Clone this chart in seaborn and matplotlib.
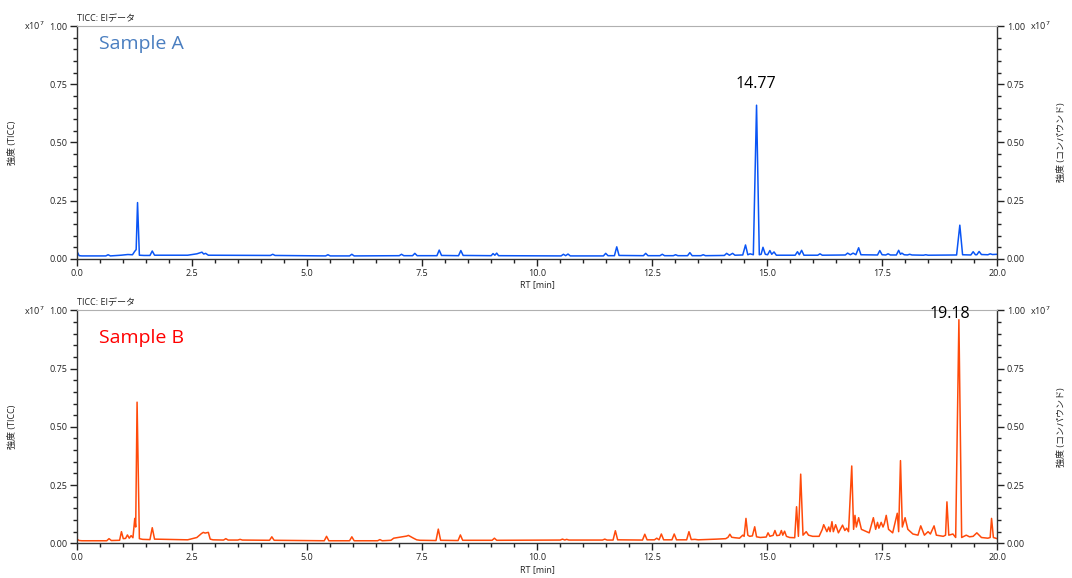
import matplotlib
matplotlib.use("Agg")
import matplotlib.pyplot as plt
from matplotlib.ticker import MultipleLocator, FormatStrFormatter
import seaborn as sns
import pandas as pd

# Sample A (TICC), intensity in units of 1e7
rt_a = [0.00, 0.04, 0.10,
        0.62, 0.67, 0.72,
        0.95, 1.10, 1.20, 1.25, 1.28, 1.31, 1.35, 1.45,
        1.58, 1.63, 1.68,
        2.40, 2.60, 2.71, 2.75, 2.79, 2.85,
        4.20, 4.25, 4.30,
        5.40, 5.45, 5.50,
        5.92, 5.97, 6.02,
        7.00, 7.05, 7.10,
        7.29, 7.34, 7.39,
        7.82, 7.87, 7.92,
        8.29, 8.34, 8.39,
        9.00, 9.04, 9.08, 9.12, 9.16,
        10.52, 10.57, 10.62, 10.67, 10.72,
        11.44, 11.49, 11.54,
        11.68, 11.73, 11.78,
        12.31, 12.36, 12.41,
        12.67, 12.72, 12.77,
        12.96, 13.01, 13.06,
        13.27, 13.32, 13.37,
        13.56, 13.61, 13.66,
        14.07, 14.12, 14.18, 14.25, 14.30,
        14.47, 14.53, 14.58, 14.63, 14.70,
        14.77, 14.83, 14.87,
        14.91, 14.96, 15.01, 15.06, 15.10, 15.15, 15.20,
        15.61, 15.66, 15.70, 15.75, 15.80,
        16.10, 16.15, 16.20,
        16.70, 16.75, 16.81, 16.87, 16.93, 16.99, 17.04,
        17.40, 17.45, 17.50, 17.58, 17.63, 17.68,
        17.81, 17.86, 17.90, 17.93, 17.98, 18.05, 18.10, 18.15,
        18.40, 18.45, 18.50,
        19.12, 19.19, 19.25,
        19.43, 19.48, 19.53, 19.56, 19.61, 19.66,
        19.80, 19.85, 19.90, 20.00]
int_a = [0.030, 0.014, 0.013,
         0.013, 0.018, 0.013,
         0.016, 0.019, 0.018, 0.033, 0.040, 0.242, 0.016, 0.015,
         0.015, 0.034, 0.016,
         0.016, 0.022, 0.029, 0.021, 0.024, 0.016,
         0.015, 0.020, 0.015,
         0.013, 0.018, 0.013,
         0.013, 0.020, 0.013,
         0.014, 0.020, 0.014,
         0.014, 0.024, 0.014,
         0.014, 0.038, 0.015,
         0.014, 0.036, 0.015,
         0.014, 0.023, 0.016, 0.025, 0.014,
         0.013, 0.020, 0.014, 0.021, 0.013,
         0.013, 0.024, 0.014,
         0.014, 0.052, 0.015,
         0.014, 0.024, 0.014,
         0.014, 0.020, 0.014,
         0.014, 0.018, 0.014,
         0.014, 0.027, 0.014,
         0.014, 0.018, 0.014,
         0.015, 0.024, 0.016, 0.024, 0.016,
         0.017, 0.060, 0.018, 0.022, 0.018,
         0.660, 0.018, 0.020,
         0.050, 0.020, 0.018, 0.036, 0.020, 0.030, 0.016,
         0.016, 0.031, 0.018, 0.037, 0.016,
         0.016, 0.022, 0.016,
         0.017, 0.025, 0.018, 0.025, 0.018, 0.048, 0.018,
         0.017, 0.036, 0.018, 0.017, 0.022, 0.017,
         0.017, 0.037, 0.020, 0.025, 0.018, 0.017, 0.020, 0.017,
         0.016, 0.018, 0.016,
         0.017, 0.145, 0.018,
         0.017, 0.031, 0.018, 0.018, 0.032, 0.019,
         0.018, 0.022, 0.019, 0.020]

# Sample B (TICC), intensity in units of 1e7
rt_b = [0.00, 0.04, 0.10,
        0.64, 0.69, 0.74,
        0.92, 0.96, 1.00, 1.05, 1.09, 1.13, 1.17, 1.21,
        1.25, 1.27, 1.30, 1.35, 1.42,
        1.58, 1.63, 1.68,
        2.40, 2.60, 2.70, 2.74, 2.78, 2.85, 2.89, 2.95,
        3.18, 3.23, 3.28,
        3.49, 3.54, 3.59,
        4.18, 4.23, 4.28,
        5.37, 5.42, 5.47,
        5.92, 5.97, 6.02,
        6.53, 6.58, 6.63,
        6.82, 6.88, 7.00, 7.16, 7.20, 7.31, 7.38, 7.45,
        7.80, 7.85, 7.90,
        8.28, 8.33, 8.38,
        9.02, 9.07, 9.12,
        10.50, 10.55, 10.60, 10.64, 10.69,
        11.42, 11.47, 11.52,
        11.65, 11.70, 11.75,
        12.29, 12.34, 12.39,
        12.55, 12.60, 12.65, 12.70, 12.75,
        12.93, 12.98, 13.03,
        13.25, 13.30, 13.35, 13.43, 13.50,
        13.90, 14.10, 14.15, 14.19, 14.23, 14.30, 14.40,
        14.47, 14.50, 14.54, 14.58, 14.62, 14.68, 14.73, 14.77, 14.85,
        14.98, 15.02, 15.06, 15.09, 15.13, 15.17, 15.21, 15.27, 15.31, 15.34,
        15.38, 15.42, 15.49,
        15.60, 15.64, 15.68, 15.73, 15.78, 15.85, 15.90, 15.99, 16.13,
        16.20, 16.23, 16.30, 16.34, 16.37, 16.41, 16.44, 16.49, 16.55, 16.64,
        16.69, 16.73, 16.77,
        16.84, 16.88, 16.91, 16.94, 16.99, 17.05, 17.22,
        17.31, 17.36, 17.40, 17.43, 17.48, 17.52, 17.55, 17.59, 17.64, 17.73,
        17.83, 17.86, 17.90, 17.94, 18.00, 18.06, 18.17, 18.28,
        18.34, 18.42, 18.50, 18.55, 18.63, 18.68, 18.83,
        18.88, 18.91, 18.95, 19.04, 19.10,
        19.17, 19.23, 19.33, 19.40, 19.48, 19.56, 19.66, 19.80,
        19.85, 19.88, 19.92, 20.00]
int_b = [0.017, 0.012, 0.011,
         0.011, 0.020, 0.012,
         0.013, 0.050, 0.020, 0.021, 0.036, 0.022, 0.033, 0.024,
         0.107, 0.070, 0.606, 0.020, 0.017,
         0.016, 0.067, 0.018,
         0.015, 0.025, 0.042, 0.047, 0.044, 0.047, 0.018, 0.015,
         0.014, 0.020, 0.014,
         0.014, 0.017, 0.014,
         0.013, 0.028, 0.013,
         0.011, 0.030, 0.011,
         0.011, 0.028, 0.011,
         0.011, 0.016, 0.011,
         0.013, 0.022, 0.026, 0.031, 0.034, 0.022, 0.015, 0.013,
         0.012, 0.061, 0.013,
         0.012, 0.036, 0.013,
         0.013, 0.022, 0.013,
         0.014, 0.018, 0.014, 0.017, 0.014,
         0.014, 0.018, 0.014,
         0.014, 0.054, 0.015,
         0.014, 0.039, 0.015,
         0.015, 0.022, 0.015, 0.040, 0.015,
         0.015, 0.040, 0.015,
         0.015, 0.050, 0.016, 0.017, 0.015,
         0.018, 0.020, 0.026, 0.039, 0.026, 0.024, 0.022,
         0.035, 0.030, 0.107, 0.035, 0.030, 0.032, 0.071, 0.028, 0.025,
         0.027, 0.045, 0.030, 0.032, 0.034, 0.055, 0.033, 0.035, 0.055, 0.035,
         0.052, 0.030, 0.025,
         0.024, 0.157, 0.030, 0.297, 0.035, 0.050, 0.035, 0.030, 0.030,
         0.060, 0.080, 0.050, 0.070, 0.050, 0.093, 0.050, 0.080, 0.045, 0.078,
         0.055, 0.065, 0.050,
         0.332, 0.060, 0.120, 0.070, 0.110, 0.060, 0.045,
         0.110, 0.060, 0.090, 0.065, 0.090, 0.070, 0.085, 0.120, 0.060, 0.045,
         0.129, 0.050, 0.355, 0.070, 0.110, 0.060, 0.040, 0.035,
         0.075, 0.035, 0.050, 0.040, 0.075, 0.035, 0.030,
         0.035, 0.178, 0.035, 0.040, 0.025,
         0.960, 0.025, 0.035, 0.028, 0.030, 0.045, 0.025, 0.022,
         0.025, 0.107, 0.025, 0.020]

sample_names = ["Sample A", "Sample B"]
peak_labels = ["14.77", "19.18"]
peak_label_pos = [(14.75, 0.75), (18.97, 0.984)]

sns.set_style("ticks")
# latin text in Open Sans, japanese falls through to Noto CJK
plt.rcParams['font.family'] = ['Open Sans', 'Noto Sans CJK JP', 'DejaVu Sans']
plt.rcParams['axes.linewidth'] = 1.0

fig = plt.figure(figsize=(10.72, 5.78), dpi=100)
ax_a = fig.add_axes([0.0721, 0.552, 0.858, 0.403])
ax_b = fig.add_axes([0.0721, 0.060, 0.858, 0.403])

panels = [
    (ax_a, rt_a, int_a, "#0a55f5", "#4a7ec0"),
    (ax_b, rt_b, int_b, "#ff4a0a", "#ff0000"),
]

for i, (ax, rt, inten, line_color, name_color) in enumerate(panels):
    df = pd.DataFrame({"RT": rt, "I": inten})
    sns.lineplot(data=df, x="RT", y="I", ax=ax, color=line_color,
                 lw=1.1, estimator=None, sort=False)
    ax.set_xlim(0, 20)
    ax.set_ylim(0, 1.0)
    ax.xaxis.set_major_locator(MultipleLocator(2.5))
    ax.xaxis.set_minor_locator(MultipleLocator(0.5))
    ax.yaxis.set_major_locator(MultipleLocator(0.25))
    ax.yaxis.set_minor_locator(MultipleLocator(0.05))
    ax.xaxis.set_major_formatter(FormatStrFormatter('%.1f'))
    ax.yaxis.set_major_formatter(FormatStrFormatter('%.2f'))
    ax.tick_params(which='both', direction='out', colors='#222222',
                   labelsize=6.5, left=True, right=True, labelright=True, width=1)
    ax.tick_params(which='major', length=5, pad=2)
    ax.tick_params(which='minor', length=3)
    for side in ['left', 'bottom', 'right']:
        ax.spines[side].set_color('#333333')
    ax.spines['top'].set_color('#b0b0b0')
    ax.spines['top'].set_linewidth(0.8)

    ax.set_xlabel("RT [min]", fontsize=6.5, labelpad=2, color='#222222')
    ax.set_ylabel("強度 (TICC)", fontsize=6.5, color='#222222')
    ax.yaxis.set_label_coords(-0.066, 0.5)
    ax.text(1.070, 0.5, "強度 (コンパウンド)", transform=ax.transAxes,
            rotation=90, fontsize=6.5, color='#222222', ha='center', va='center')
    ax.text(0.0, 1.012, "TICC: EIデータ", transform=ax.transAxes,
            fontsize=6.5, color='#222222', ha='left', va='bottom')
    ax.text(-0.058, 1.0, r"x10$^7$", transform=ax.transAxes,
            fontsize=6.5, color='#222222', ha='left', va='center')
    ax.text(1.036, 1.0, r"x10$^7$", transform=ax.transAxes,
            fontsize=6.5, color='#222222', ha='left', va='center')

    ax.text(0.024, 0.923 if i == 0 else 0.881, sample_names[i],
            transform=ax.transAxes, fontsize=14, color=name_color,
            ha='left', va='center')
    px, py = peak_label_pos[i]
    ax.text(px, py, peak_labels[i], fontsize=11.5, color='black',
            ha='center', va='center')

fig.savefig("out.png", dpi=100)
